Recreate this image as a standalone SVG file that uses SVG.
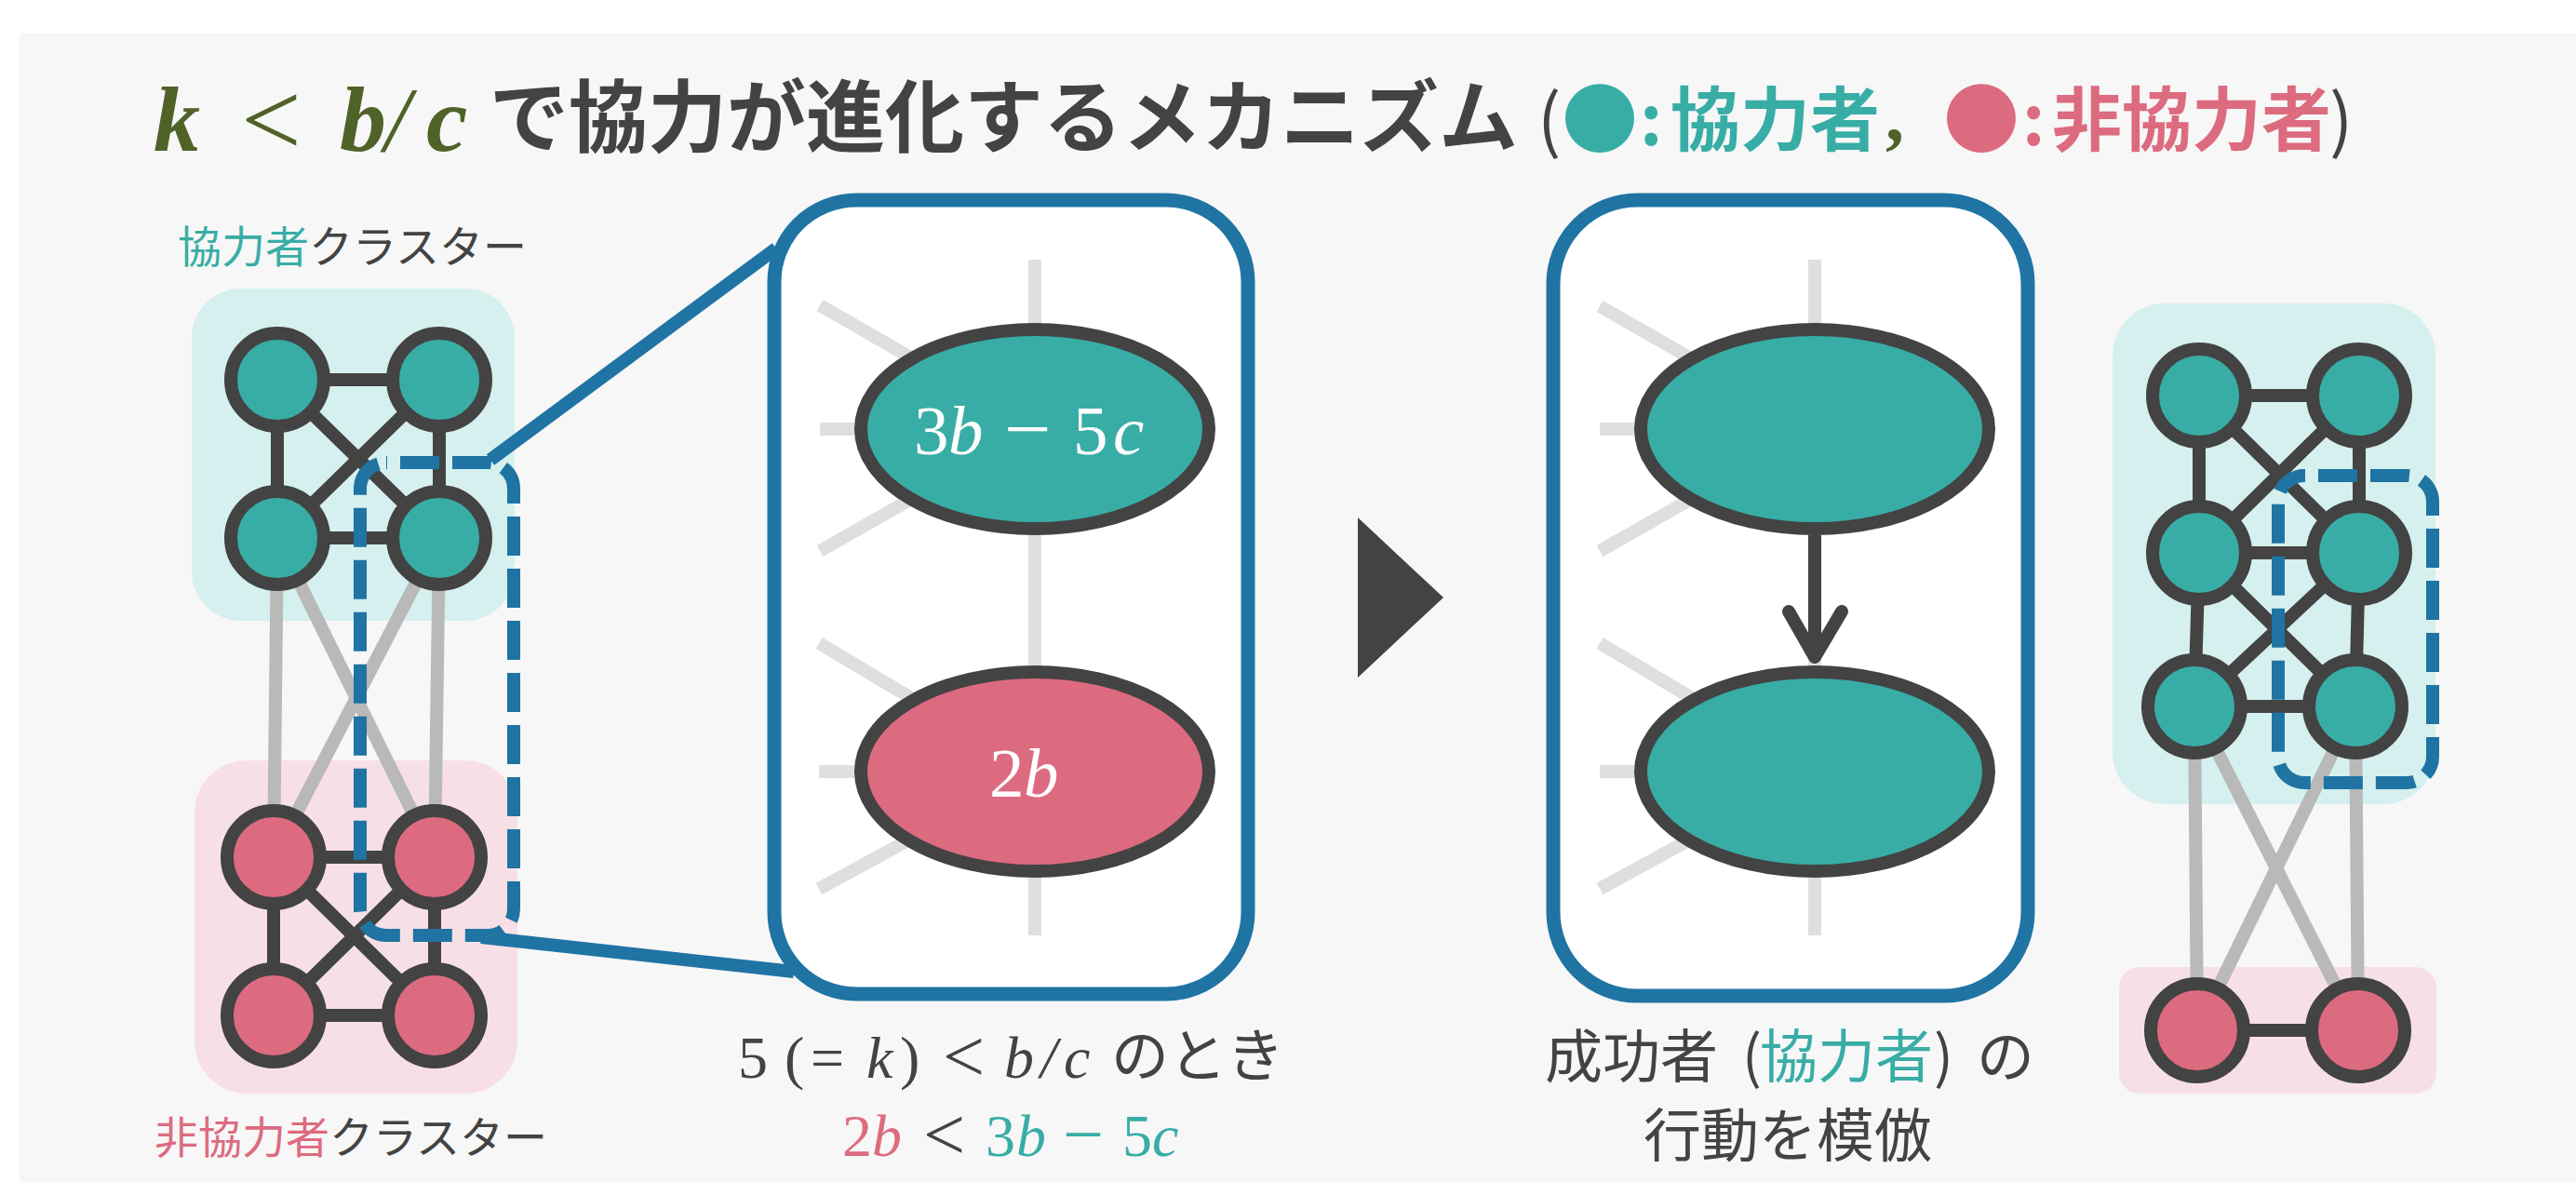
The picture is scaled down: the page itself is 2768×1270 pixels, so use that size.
<svg xmlns="http://www.w3.org/2000/svg" width="2768" height="1270" viewBox="0 0 2768 1270">
<style>
.jp{font-family:'Noto Sans CJK JP','Noto Sans',sans-serif}
.m{font-family:'Liberation Serif','DejaVu Serif',serif}
.i{font-style:italic}
.b{font-weight:bold}
.n{font-weight:normal}
.dk{fill:#434343}
.tl{fill:#38ada6}
.pk{fill:#dd6b7f}
.ol{fill:#4f6228}
.wh{fill:#ffffff}
.nt{fill:#38ada6;stroke:#434343;stroke-width:14}
.np{fill:#dd6b7f;stroke:#434343;stroke-width:14}
.e{stroke:#434343;stroke-width:14;fill:none}
.g{stroke:#b9b9b9;stroke-width:14}
.s{stroke:#dfdfdf;stroke-width:14}
.bl{stroke:#1f74a3;stroke-width:14}
.dash{fill:none;stroke:#1f74a3;stroke-width:14;stroke-dasharray:42 14;stroke-dashoffset:41}
.box{fill:#ffffff;stroke:#1f74a3;stroke-width:15}
</style>
<rect width="2768" height="1270" fill="#ffffff"/>
<rect x="21" y="36" width="2747" height="1234" fill="#f7f7f7"/>

<g id="title">
<text class="m i b ol" font-size="100" x="165" y="162">k</text>
<text class="m ol" font-size="115" x="259" y="167">&lt;</text>
<text class="m i b ol" font-size="100" x="365" y="162">b</text>
<text class="m i ol" font-size="100" x="413" y="162">/</text>
<text class="m i b ol" font-size="100" x="458" y="162">c</text>
<text class="jp b dk" font-size="85" x="526" y="157">で協力が進化するメカニズム</text>
<text class="jp b" font-size="75" y="156"><tspan class="dk n" x="1652">(</tspan><tspan class="tl" x="1678" font-size="82" dy="2">●</tspan><tspan class="tl" x="1762" dy="-2">:</tspan><tspan class="tl" x="1795">協力者</tspan><tspan class="m ol" x="2026" font-size="80" dy="-5">,</tspan><tspan class="pk" x="2088" font-size="82" dy="7">●</tspan><tspan class="pk" x="2173" dy="-2">:</tspan><tspan class="pk" x="2205">非協力者</tspan><tspan class="dk n" x="2503">)</tspan></text>
</g>

<g id="cluster-backgrounds">
<rect x="206" y="310" width="347" height="357" rx="53" fill="#d5f0ee"/>
<rect x="209" y="817" width="347" height="358" rx="56" fill="#f7e0e5"/>
<rect x="2270" y="326" width="347" height="538" rx="56" fill="#d5f0ee"/>
<rect x="2277" y="1039" width="341" height="136" rx="22" fill="#f7e0e5"/>
</g>

<g id="box1"><rect class="box" x="832" y="215" width="509" height="853" rx="88"/></g>
<g id="box2"><rect class="box" x="1669" y="215" width="510" height="855" rx="90"/></g>

<g id="connectors">
<line class="g" x1="298" y1="578" x2="294" y2="921"/>
<line class="g" x1="472" y1="578" x2="467" y2="921"/>
<line class="g" x1="298" y1="578" x2="467" y2="921"/>
<line class="g" x1="472" y1="578" x2="294" y2="921"/>
<line class="e" x1="298" y1="408" x2="472" y2="408"/>
<line class="e" x1="298" y1="408" x2="298" y2="578"/>
<line class="e" x1="472" y1="408" x2="472" y2="578"/>
<line class="e" x1="298" y1="578" x2="472" y2="578"/>
<line class="e" x1="298" y1="408" x2="472" y2="578"/>
<line class="e" x1="472" y1="408" x2="298" y2="578"/>
<line class="e" x1="294" y1="921" x2="467" y2="921"/>
<line class="e" x1="294" y1="921" x2="294" y2="1091"/>
<line class="e" x1="467" y1="921" x2="467" y2="1091"/>
<line class="e" x1="294" y1="1091" x2="467" y2="1091"/>
<line class="e" x1="294" y1="921" x2="467" y2="1091"/>
<line class="e" x1="467" y1="921" x2="294" y2="1091"/>
<line class="g" x1="2358" y1="759" x2="2361" y2="1107"/>
<line class="g" x1="2531" y1="759" x2="2534" y2="1107"/>
<line class="g" x1="2358" y1="759" x2="2534" y2="1107"/>
<line class="g" x1="2531" y1="759" x2="2361" y2="1107"/>
<line class="e" x1="2363" y1="425" x2="2535" y2="425"/>
<line class="e" x1="2363" y1="594" x2="2535" y2="594"/>
<line class="e" x1="2358" y1="759" x2="2531" y2="759"/>
<line class="e" x1="2363" y1="425" x2="2363" y2="594"/>
<line class="e" x1="2535" y1="425" x2="2535" y2="594"/>
<line class="e" x1="2363" y1="594" x2="2358" y2="759"/>
<line class="e" x1="2535" y1="594" x2="2531" y2="759"/>
<line class="e" x1="2363" y1="425" x2="2535" y2="594"/>
<line class="e" x1="2535" y1="425" x2="2363" y2="594"/>
<line class="e" x1="2363" y1="594" x2="2531" y2="759"/>
<line class="e" x1="2535" y1="594" x2="2358" y2="759"/>
<line class="e" x1="2361" y1="1107" x2="2534" y2="1107"/>
<line class="bl" x1="527" y1="494" x2="834" y2="267"/>
<line class="bl" x1="517" y1="1007" x2="853" y2="1044"/>
<line class="s" x1="1112" y1="279" x2="1112" y2="1005"/>
<line class="s" x1="881" y1="328" x2="1112" y2="461"/>
<line class="s" x1="881" y1="461" x2="1112" y2="461"/>
<line class="s" x1="881" y1="592" x2="1112" y2="461"/>
<line class="s" x1="880" y1="691" x2="1112" y2="829"/>
<line class="s" x1="880" y1="829" x2="1112" y2="829"/>
<line class="s" x1="880" y1="955" x2="1112" y2="829"/>
<line class="s" x1="1950" y1="279" x2="1950" y2="1005"/>
<line class="s" x1="1719" y1="329" x2="1950" y2="461"/>
<line class="s" x1="1719" y1="461" x2="1950" y2="461"/>
<line class="s" x1="1719" y1="592" x2="1950" y2="461"/>
<line class="s" x1="1719" y1="691" x2="1950" y2="829"/>
<line class="s" x1="1719" y1="829" x2="1950" y2="829"/>
<line class="s" x1="1719" y1="955" x2="1950" y2="829"/>
</g>

<g id="left-coop-cluster">
<circle class="nt" cx="298" cy="408" r="50"/>
<circle class="nt" cx="472" cy="408" r="50"/>
<circle class="nt" cx="298" cy="578" r="50"/>
<circle class="nt" cx="472" cy="578" r="50"/>
</g>
<g id="left-defect-cluster">
<circle class="np" cx="294" cy="921" r="50"/>
<circle class="np" cx="467" cy="921" r="50"/>
<circle class="np" cx="294" cy="1091" r="50"/>
<circle class="np" cx="467" cy="1091" r="50"/>
</g>
<g id="left-labels">
<text class="jp" font-size="47" x="191" y="282"><tspan class="tl">協力者</tspan><tspan class="dk">クラスター</tspan></text>
<text class="jp" font-size="47" x="166" y="1239"><tspan class="pk">非協力者</tspan><tspan class="dk">クラスター</tspan></text>
</g>
<g id="left-selection"><rect class="dash" x="387" y="497" width="165" height="508" rx="28"/></g>

<g id="right-coop-cluster">
<circle class="nt" cx="2363" cy="425" r="50"/>
<circle class="nt" cx="2535" cy="425" r="50"/>
<circle class="nt" cx="2363" cy="594" r="50"/>
<circle class="nt" cx="2535" cy="594" r="50"/>
<circle class="nt" cx="2358" cy="759" r="50"/>
<circle class="nt" cx="2531" cy="759" r="50"/>
</g>
<g id="right-defect-cluster">
<circle class="np" cx="2361" cy="1107" r="50"/>
<circle class="np" cx="2534" cy="1107" r="50"/>
</g>
<g id="right-selection"><rect class="dash" x="2448" y="511" width="166" height="330" rx="28"/></g>

<g id="payoff-coop">
<ellipse class="nt" cx="1112" cy="461" rx="187" ry="107" stroke-width="15"/>
<text class="m wh" font-size="75" y="488"><tspan x="982">3</tspan><tspan class="i" x="1019">b</tspan><tspan x="1079" font-size="90" dy="3">−</tspan><tspan x="1153" dy="-3">5</tspan><tspan class="i" x="1196">c</tspan></text>
</g>
<g id="payoff-defect">
<ellipse class="np" cx="1112" cy="829" rx="187" ry="107" stroke-width="15"/>
<text class="m wh" font-size="75" y="856"><tspan x="1063">2</tspan><tspan class="i" x="1100">b</tspan></text>
</g>

<g id="step-arrow"><polygon points="1459,556 1459,728 1551,642" fill="#434343"/></g>

<g id="imitate-source"><ellipse class="nt" cx="1950" cy="461" rx="187" ry="107" stroke-width="15"/></g>
<g id="imitate-target"><ellipse class="nt" cx="1950" cy="829" rx="187" ry="107" stroke-width="15"/></g>
<g id="imitate-arrow">
<line class="e" x1="1950" y1="575" x2="1950" y2="706"/>
<polyline class="e" points="1922,657 1950,706 1979,657" stroke-linecap="round" stroke-linejoin="round"/>
</g>

<g id="caption-left">
<text class="m dk" font-size="64" y="1158"><tspan x="793">5 </tspan><tspan x="843">(</tspan><tspan x="871">=</tspan><tspan class="i" x="931">k</tspan><tspan x="967">)</tspan><tspan x="1013" font-size="80" dy="4">&lt;</tspan><tspan x="1079" class="i" dy="-4">b</tspan><tspan x="1118" class="i">/</tspan><tspan x="1143" class="i">c</tspan></text>
<text class="jp dk" font-size="62" x="1194" y="1157">のとき</text>
<text class="m" font-size="64" y="1242"><tspan class="pk" x="905">2</tspan><tspan class="pk i" x="937">b</tspan><tspan class="dk" x="992" font-size="80" dy="4">&lt;</tspan><tspan class="tl" x="1059" dy="-4">3</tspan><tspan class="tl i" x="1092">b</tspan><tspan class="tl" x="1142" font-size="78" dy="3">−</tspan><tspan class="tl" x="1206" dy="-3">5</tspan><tspan class="tl i" x="1238">c</tspan></text>
</g>
<g id="caption-right">
<text class="jp dk" font-size="62" y="1158"><tspan x="1660">成功者 </tspan><tspan x="1872">(</tspan><tspan class="tl" x="1891">協力者</tspan><tspan x="2078">) </tspan><tspan x="2124">の</tspan></text>
<text class="jp dk" font-size="62" x="1766" y="1243">行動を模倣</text>
</g>
</svg>
